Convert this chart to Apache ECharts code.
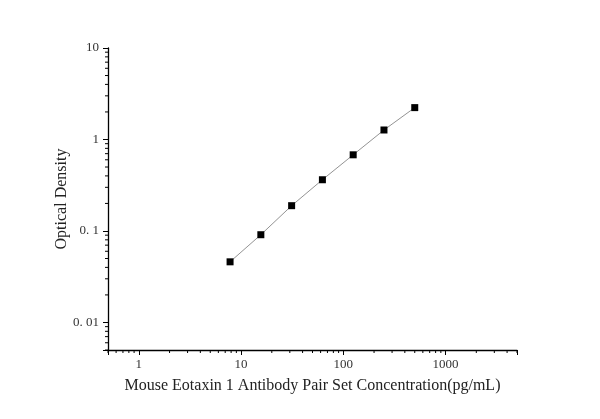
<!DOCTYPE html>
<html>
<head>
<meta charset="utf-8">
<script src="https://cdn.jsdelivr.net/npm/echarts@6/dist/echarts.min.js"></script>
<style>
  html, body { margin: 0; padding: 0; background: #fff; }
  #chart { width: 600px; height: 419px; }
</style>
</head>
<body>
<div id="chart"></div>
<script>
// standard curve points
const concentrations = [7.8125, 15.625, 31.25, 62.5, 125, 250, 500]
const densities = [0.046, 0.091, 0.189, 0.363, 0.68, 1.27, 2.23]

const xMin = 0.5, xMax = 5000
const yMin = 0.005, yMax = 10

// minor tick values (2..9 of each decade)
const xMinorTicks = [0.5, 0.6, 0.7, 0.8, 0.9,
  2, 3, 4, 5, 6, 7, 8, 9,
  20, 30, 40, 50, 60, 70, 80, 90,
  200, 300, 400, 500, 600, 700, 800, 900,
  2000, 3000, 4000, 5000]
const yMinorTicks = [0.005, 0.006, 0.007, 0.008, 0.009,
  0.02, 0.03, 0.04, 0.05, 0.06, 0.07, 0.08, 0.09,
  0.2, 0.3, 0.4, 0.5, 0.6, 0.7, 0.8, 0.9,
  2, 3, 4, 5, 6, 7, 8, 9]

const font = '"Liberation Serif", "Times New Roman", serif'

function decadeLabel(v) {
    const p = Math.log10(v)
    if (Math.abs(p - Math.round(p)) > 1e-6) return ''
    const s = String(Number(v.toPrecision(6)))
    return v < 1 ? s.replace('.', '. ') : s
}

const myChart = echarts.init(document.getElementById('chart'))

myChart.setOption({
    animation: false,
    grid: {left: 108, top: 48, right: 83, bottom: 69, containLabel: false},
    xAxis: {
        type: 'log', logBase: 10, min: xMin, max: xMax,
        name: 'Mouse Eotaxin 1 Antibody Pair Set Concentration(pg/mL)',
        nameLocation: 'middle', nameGap: 28, nameMoveOverlap: false,
        nameTextStyle: {fontFamily: font, fontSize: 16, color: '#222'},
        axisLine: {lineStyle: {color: '#000', width: 1.3}},
        axisTick: {show: true, inside: false, length: 5, lineStyle: {color: '#000'}},
        axisLabel: {fontFamily: font, fontSize: 13, color: '#333', margin: 8, formatter: decadeLabel},
        splitLine: {show: false}
    },
    yAxis: {
        type: 'log', logBase: 10, min: yMin, max: yMax,
        name: 'Optical Density',
        nameLocation: 'middle', nameGap: 38, nameMoveOverlap: false,
        nameTextStyle: {fontFamily: font, fontSize: 16, color: '#222'},
        axisLine: {show: true, lineStyle: {color: '#000', width: 1.3}},
        axisTick: {show: true, inside: false, length: 5, lineStyle: {color: '#000'}},
        axisLabel: {fontFamily: font, fontSize: 13, color: '#333', margin: 9, formatter: decadeLabel},
        splitLine: {show: false}
    },
    series: [
        {
            type: 'line',
            data: concentrations.map((c, i) => [c, densities[i]]),
            symbol: 'rect', symbolSize: 7,
            itemStyle: {color: '#000'},
            lineStyle: {color: '#777', width: 0.8}
        },
        {
            // x minor ticks
            type: 'custom', clip: false, silent: true,
            data: xMinorTicks.map(v => [v, yMin]),
            renderItem: (params, api) => {
                const p = api.coord([api.value(0), api.value(1)])
                return {type: 'line', shape: {x1: p[0], y1: p[1], x2: p[0], y2: p[1] + 3},
                    style: {stroke: '#000', lineWidth: 1}}
            }
        },
        {
            // y minor ticks
            type: 'custom', clip: false, silent: true,
            data: yMinorTicks.map(v => [xMin, v]),
            renderItem: (params, api) => {
                const p = api.coord([api.value(0), api.value(1)])
                return {type: 'line', shape: {x1: p[0], y1: p[1], x2: p[0] - 3, y2: p[1]},
                    style: {stroke: '#000', lineWidth: 1}}
            }
        }
    ]
})
</script>
</body>
</html>
